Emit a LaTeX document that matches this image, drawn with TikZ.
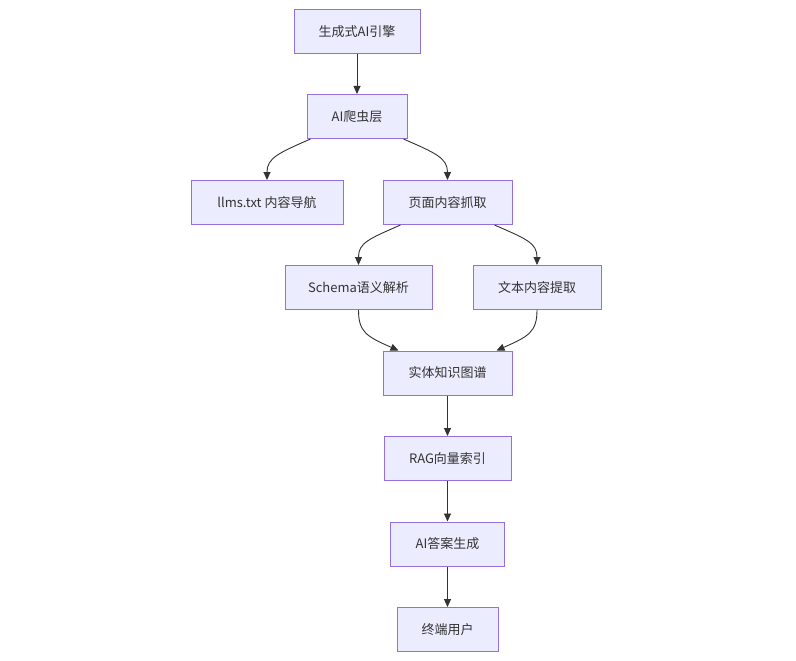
\documentclass[tikz,border=0pt]{standalone}
\usepackage{fontspec}
\setmainfont{Noto Sans CJK SC}
\definecolor{boxfill}{RGB}{236, 236, 255}
\definecolor{boxline}{RGB}{147, 112, 219}
\definecolor{edge1}{RGB}{51, 51, 51}
\usetikzlibrary{arrows.meta, positioning}
\tikzset{
  flowbox/.style={draw=boxline, fill=boxfill, line width=1pt, minimum height=44pt, inner sep=0pt, font=\fontsize{13}{16}\selectfont, text=edge1},
  flowarr/.style={draw=edge1, line width=0.9pt, -{Triangle[length=8pt, width=7pt]}}
}

\begin{document}
\begin{tikzpicture}[x=1pt, y=-1pt]
  \useasboundingbox[fill=white] (0,0) rectangle (796,661);

  \node[flowbox, minimum width=126pt] (engine) at (357, 31.5) {生成式AI引擎};
  \node[flowbox, minimum width=100pt] (crawler) at (357, 116.5) {AI爬虫层};
  \node[flowbox, minimum width=152pt] (llms) at (267, 202.5) {llms.txt 内容导航};
  \node[flowbox, minimum width=129pt] (fetch) at (447.5, 202.5) {页面内容抓取};
  \node[flowbox, minimum width=147pt] (schema) at (358.5, 287.5) {Schema语义解析};
  \node[flowbox, minimum width=128pt] (extract) at (537, 287.5) {文本内容提取};
  \node[flowbox, minimum width=129pt] (graph) at (447.5, 373) {实体知识图谱};
  \node[flowbox, minimum width=127pt] (rag) at (447.5, 458.5) {RAG向量索引};
  \node[flowbox, minimum width=114pt] (answer) at (447.5, 544) {AI答案生成};
  \node[flowbox, minimum width=101pt] (user) at (447.5, 629.5) {终端用户};

  % straight links
  \draw[flowarr] (engine) -- (crawler);
  \draw[flowarr] (graph) -- (rag);
  \draw[flowarr] (rag) -- (answer);
  \draw[flowarr] (answer) -- (user);

  % branching links
  \draw[flowarr] ([xshift=4pt]crawler.south west) .. controls +(-32,14) and +(0,-22) .. (llms.north);
  \draw[flowarr] ([xshift=-4pt]crawler.south east) .. controls +(32,14) and +(0,-22) .. (fetch.north);
  \draw[flowarr] ([xshift=18pt]fetch.south west) .. controls +(-32,14) and +(0,-22) .. (schema.north);
  \draw[flowarr] ([xshift=-18pt]fetch.south east) .. controls +(32,14) and +(0,-22) .. (extract.north);

  % merging links
  \draw[flowarr] (schema.south) .. controls +(0,22) and +(-32,-14) .. ([xshift=16pt]graph.north west);
  \draw[flowarr] (extract.south) .. controls +(0,22) and +(32,-14) .. ([xshift=-16pt]graph.north east);
\end{tikzpicture}
\end{document}
